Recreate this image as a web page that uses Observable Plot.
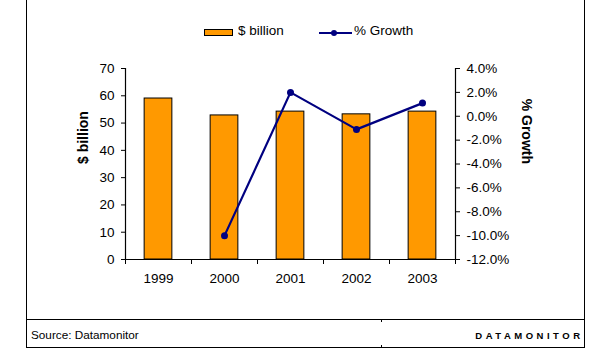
<!DOCTYPE html>
<html><head><meta charset="utf-8">
<script src="https://cdn.jsdelivr.net/npm/d3@7"></script>
<script src="https://cdn.jsdelivr.net/npm/@observablehq/plot@0.6"></script>
<style>
body{margin:0;background:#fff;font-family:"Liberation Sans",Arial,sans-serif;color:#000;}
#wrap{position:relative;width:616px;height:364px;overflow:hidden;background:#fff;}
#chart{position:absolute;left:0;top:0;}
.frame{position:absolute;left:26px;top:-2px;width:559px;height:350px;border:1.5px solid #000;border-top:none;box-sizing:border-box;}
.sep{position:absolute;left:27px;width:557px;top:318.5px;height:1.5px;background:#000;}
.nick{position:absolute;left:380.5px;width:1px;height:2px;background:#000;}
.lg{position:absolute;font-size:13.5px;line-height:14px;top:24px;white-space:nowrap;}
.sw{position:absolute;left:204px;top:29px;width:29px;height:6.5px;background:#FF9900;border:1px solid #000;box-sizing:border-box;}
.ln{position:absolute;left:319px;top:31.5px;width:33px;height:2.5px;background:#000080;}
.dt{position:absolute;left:331px;top:29.7px;width:6px;height:6px;border-radius:50%;background:#000080;}
.src{position:absolute;left:31px;top:327.5px;font-size:11.75px;line-height:14px;white-space:nowrap;}
.brand{position:absolute;right:32.5px;top:329px;font-size:9.5px;line-height:14px;font-weight:bold;letter-spacing:3.5px;white-space:nowrap;}
</style>
</head><body>
<div id="wrap">
  <div id="chart"></div>
  <div class="frame"></div>
  <div class="sep"></div>
  <div class="nick" style="top:320px"></div>
  <div class="nick" style="top:344.5px"></div>
  <div class="sw"></div><div class="lg" style="left:238px">$ billion</div>
  <div class="ln"></div><div class="dt"></div><div class="lg" style="left:354px">% Growth</div>
  <div class="src">Source: Datamonitor</div>
  <div class="brand">DATAMONITOR</div>
</div>
<script>
const years = ["1999", "2000", "2001", "2002", "2003"];
const billions = [59.0, 52.8, 54.2, 53.2, 54.2];
const growth = [null, -10.0, 2.0, -1.1, 1.1];
const billionTicks = [0, 10, 20, 30, 40, 50, 60, 70];
const growthTicks = [-12, -10, -8, -6, -4, -2, 0, 2, 4];
const leftTitle = "$ billion";
const rightTitle = "% Growth";

const yMax = 70, gMin = -12, gMax = 4;
const toY = g => (g - gMin) / (gMax - gMin) * yMax;
const growthTickY = growthTicks.map(toY);
const fmtGrowth = v => {
  let best = 0;
  growthTickY.forEach((t, k) => { if (Math.abs(t - v) < Math.abs(growthTickY[best] - v)) best = k; });
  return growthTicks[best].toFixed(1) + "%";
};

const rows = years.map((year, i) => ({i, year, billion: billions[i], growth: growth[i]}));
const lineRows = rows.filter(d => d.growth != null);

const chart = Plot.plot({
  width: 616, height: 300,
  marginLeft: 125, marginRight: 161, marginTop: 68, marginBottom: 41,
  x: {domain: [0, years.length], axis: null},
  y: {domain: [0, yMax], axis: null},
  style: {fontFamily: "'Liberation Sans', Arial, sans-serif", fontSize: "13.5px", color: "#000", background: "transparent"},
  marks: [
    Plot.rectY(rows, {x1: d => d.i + 0.29, x2: d => d.i + 0.71, y: "billion", fill: "#FF9900", stroke: "#000", strokeWidth: 1}),
    Plot.ruleY([0], {stroke: "#000", strokeWidth: 1.2}),
    Plot.ruleX([0, years.length], {stroke: "#000", strokeWidth: 1.2}),
    Plot.axisX({ticks: d3.range(years.length + 1), tickSize: 5, tickFormat: () => "", label: null}),
    Plot.axisX({ticks: years.map((_, i) => i + 0.5), tickSize: 0, tickPadding: 14, tickFormat: v => years[Math.floor(v)], label: null}),
    Plot.axisY({anchor: "left", ticks: billionTicks, tickSize: 4, tickPadding: 7, label: null}),
    Plot.axisY({anchor: "right", ticks: growthTickY, tickFormat: fmtGrowth, tickSize: 4, tickPadding: 7, label: null}),
    Plot.line(lineRows, {x: d => d.i + 0.5, y: d => toY(d.growth), stroke: "#000080", strokeWidth: 2.2}),
    Plot.dot(lineRows, {x: d => d.i + 0.5, y: d => toY(d.growth), r: 3.5, fill: "#000080", stroke: "none"}),
    Plot.text([leftTitle], {frameAnchor: "left", dx: -42, rotate: -90, fontWeight: "bold", fontSize: 14, fill: "#000"}),
    Plot.text([rightTitle], {frameAnchor: "right", dx: 71, rotate: 90, fontWeight: "bold", fontSize: 14, fill: "#000"})
  ]
});
document.getElementById("chart").appendChild(chart);
</script>
</body></html>
